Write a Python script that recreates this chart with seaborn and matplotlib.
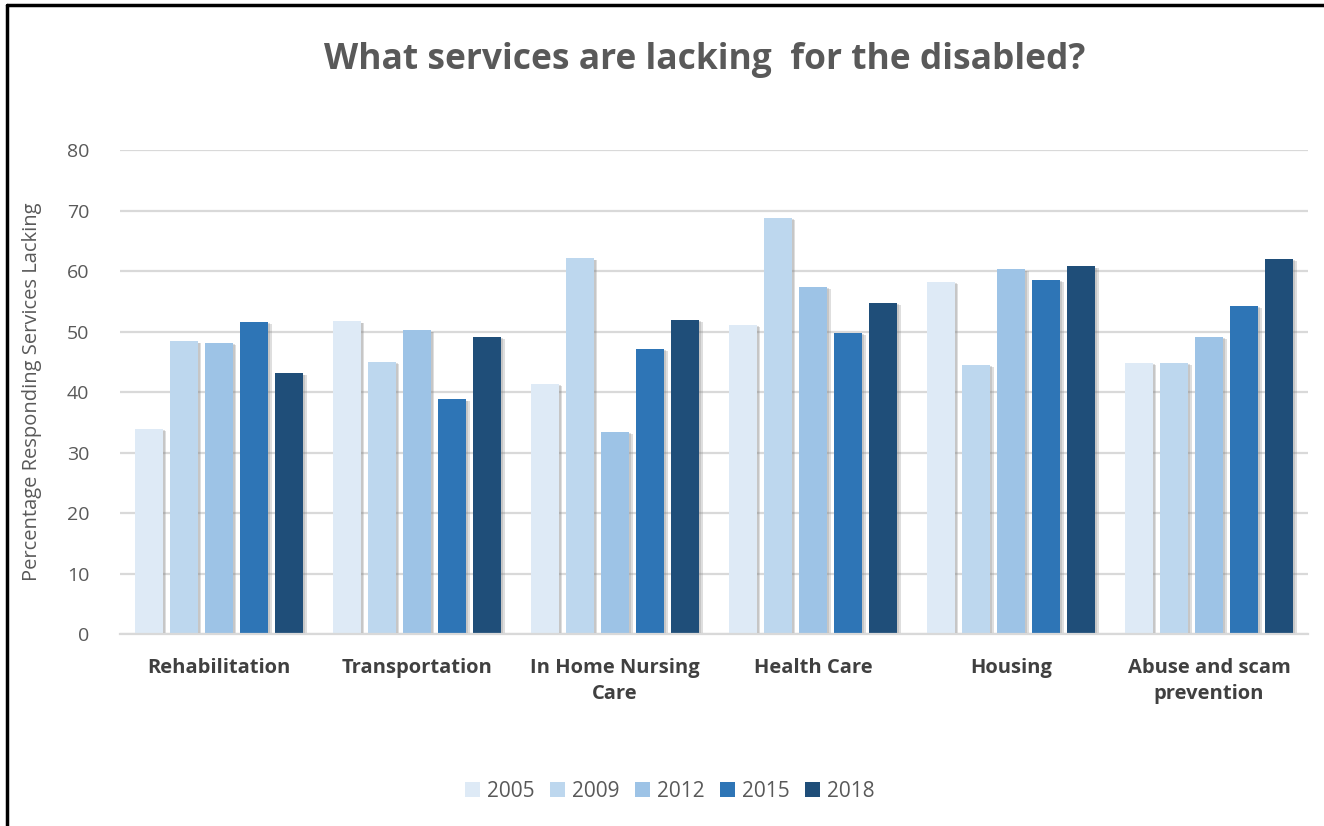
import matplotlib
matplotlib.use("Agg")
import matplotlib.pyplot as plt
import matplotlib.patheffects as pe
import seaborn as sns
import pandas as pd

categories = ["Rehabilitation", "Transportation", "In Home Nursing\nCare",
              "Health Care", "Housing", "Abuse and scam\nprevention"]
years = ["2005", "2009", "2012", "2015", "2018"]
v2005 = [33.9, 51.7, 41.4, 51.1, 58.2, 44.8]
v2009 = [48.4, 45.0, 62.1, 68.8, 44.5, 44.8]
v2012 = [48.1, 50.2, 33.4, 57.4, 60.3, 49.1]
v2015 = [51.6, 38.8, 47.1, 49.8, 58.5, 54.2]
v2018 = [43.1, 49.1, 51.9, 54.7, 60.8, 62.0]
colors = ["#DEEAF6", "#BDD7EE", "#9DC3E6", "#2E75B6", "#1F4E79"]

rows = []
for yr, vals in zip(years, [v2005, v2009, v2012, v2015, v2018]):
    for cat, v in zip(categories, vals):
        rows.append({"category": cat, "year": yr, "value": v})
df = pd.DataFrame(rows)

sns.set_theme(style="white")
plt.rcParams["font.family"] = ["Open Sans", "DejaVu Sans"]

fig = plt.figure(figsize=(13.24, 8.26), dpi=100)
ax = fig.add_axes([0.0906, 0.2324, 0.8974, 0.586])

sns.barplot(data=df, x="category", y="value", hue="year", palette=colors,
            width=0.885, gap=0.2, ax=ax, legend=True, saturation=1,
            linewidth=0)

handles, labels = ax.get_legend_handles_labels()
ax.legend_.remove()

# soft drop shadow like the office chart
shadow = [pe.SimplePatchShadow(offset=(2.5, -1.5), shadow_rgbFace="#7f7f7f", alpha=0.25),
          pe.SimplePatchShadow(offset=(1.5, -1), shadow_rgbFace="#7f7f7f", alpha=0.25),
          pe.Normal()]
for p in ax.patches:
    p.set_path_effects(shadow)

ax.set_ylim(0, 80)
ax.set_yticks(range(0, 81, 10))
ax.yaxis.grid(True, color="#D9D9D9", linewidth=1.6)
ax.set_axisbelow(True)
for s in ["top", "right", "left"]:
    ax.spines[s].set_visible(False)
ax.spines["bottom"].set_color("#D9D9D9")
ax.spines["bottom"].set_linewidth(1.6)
ax.tick_params(axis="y", length=0, labelsize=14, labelcolor="#595959", pad=22)
ax.tick_params(axis="x", length=0, labelsize=14.5, labelcolor="#404040", pad=17)
for t in ax.get_xticklabels():
    t.set_fontweight("bold")
    t.set_linespacing(1.45)
ax.set_xlabel("")
ax.set_ylabel("Percentage Responding Services Lacking", fontsize=14.5, color="#595959", labelpad=18)

fig.text(0.532, 0.927, "What services are lacking  for the disabled?", ha="center", va="center",
         fontsize=25.5, fontweight="bold", color="#595959")

for h in handles:
    h.set_path_effects([])
fig.legend(handles, labels, loc="center", bbox_to_anchor=(0.506, 0.042), ncol=5, frameon=False,
           fontsize=15, labelcolor="#595959", handlelength=0.7, handleheight=0.7,
           handletextpad=0.35, columnspacing=0.75)

# outer frame (left and top visible in the reference)
fig.add_artist(plt.Line2D([0.0055, 0.0055], [0, 0.994], transform=fig.transFigure, color="black", linewidth=2.5))
fig.add_artist(plt.Line2D([0.0055, 1], [0.994, 0.994], transform=fig.transFigure, color="black", linewidth=2.5))

fig.savefig("out.png", dpi=100, facecolor="white")
